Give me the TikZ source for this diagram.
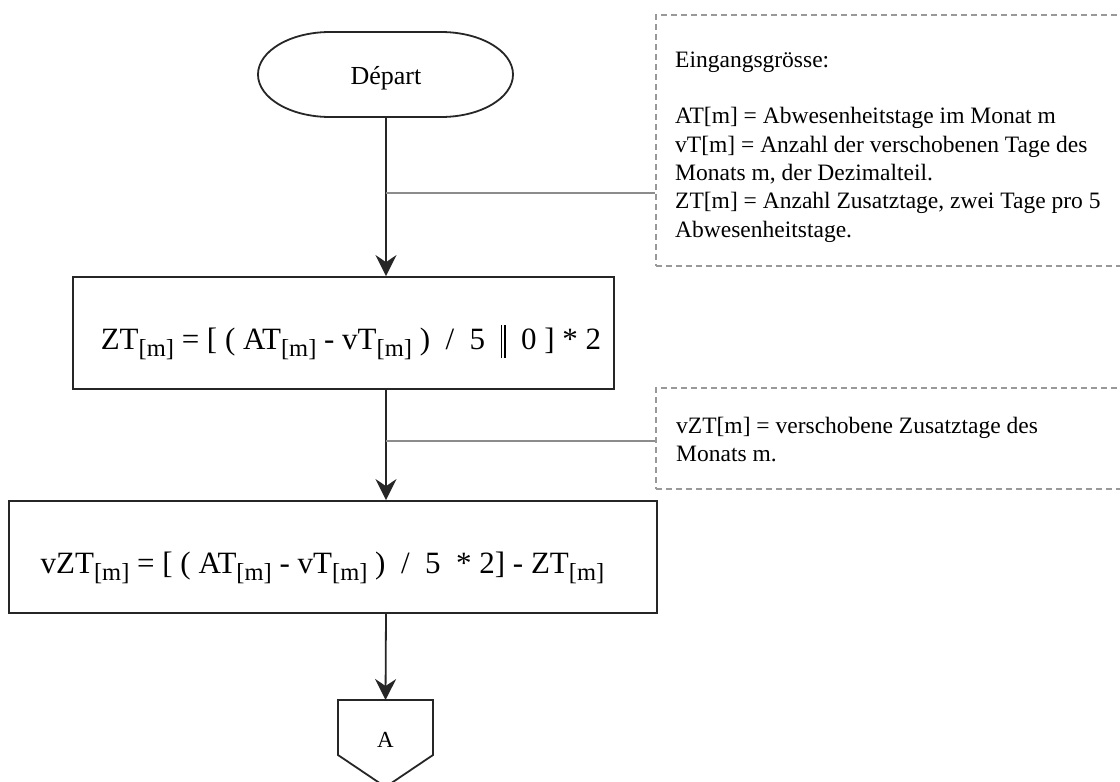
\documentclass[tikz,border=0pt]{standalone}
\usepackage{fontspec}
\setmainfont{Liberation Serif}
\usetikzlibrary{arrows.meta}
\tikzset{
  flow/.style={draw=black!85, line width=1.8pt},
  arr/.style={flow, -{Stealth[length=21pt,width=21pt,inset=7pt]}},
  branch/.style={draw=black!45, line width=1.5pt},
  notebox/.style={draw=black!40, dash pattern=on 6pt off 4pt, line width=1.5pt, inner sep=0pt},
  formula/.style={flow, rectangle, inner sep=0pt, font=\fontsize{31}{38}\selectfont, text height=32pt, text depth=0pt},
  notetxt/.style={inner sep=0pt, anchor=north west, align=left, font=\fontsize{23.5}{28.3}\selectfont},
}
\newcommand\sbm{\raisebox{-7.5pt}{\fontsize{24.5}{24.5}\selectfont[m]}}
\newcommand\dbar{\rule[-9pt]{1.2pt}{33pt}\hspace{2.5pt}\rule[-9pt]{1.2pt}{33pt}}
\begin{document}
\begin{tikzpicture}[x=1pt,y=-1pt]
\useasboundingbox (0,0) rectangle (1120,782);
\fill[white] (0,0) rectangle (1120,782);
% start terminal
\node[minimum width=255pt, minimum height=85pt, inner sep=0pt, text height=19pt, text depth=0pt, font=\fontsize{26}{30}\selectfont] (dep) at (386,74.5) {Départ};
\draw[flow] (330,32) -- (441,32) arc[start angle=90,end angle=-90,x radius=72pt,y radius=42.5pt] -- (330,117) arc[start angle=270,end angle=90,x radius=72pt,y radius=42.5pt] -- cycle;
% process boxes
\node[formula, minimum width=541pt, minimum height=112pt] (zt) at (343.5,333)
  {\hspace*{15pt}ZT\sbm{} = [ ( AT\sbm{} - vT\sbm{} )\ \ /\ \ 5\ \ \dbar\ \ 0 ] * 2};
\node[formula, minimum width=648pt, minimum height=112pt] (vzt) at (333,557)
  {vZT\sbm{} = [ ( AT\sbm{} - vT\sbm{} )\ \ /\ \ 5\ \ * 2] - ZT\sbm{}\hspace*{21pt}};
% off-page connector
\node[inner sep=0pt, font=\fontsize{23}{23}\selectfont] (conA) at (385.5,740) {A};
\coordinate (conAtop) at (385.5,700);
\draw[flow] (338,700) -- (433,700) -- (433,755) -- (385.5,787) -- (338,755) -- cycle;
% notes
\node[notebox, anchor=north west, minimum width=480pt, minimum height=251pt] (note1) at (655,14) {};
\node[notetxt] (note1t) at (675,51.5) {Eingangsgrösse:\\[28.3pt]AT[m] = Abwesenheitstage im Monat m\\vT[m] = Anzahl der verschobenen Tage des\\Monats m, der Dezimalteil.\\ZT[m] = Anzahl Zusatztage, zwei Tage pro 5\\Abwesenheitstage.};
\node[notebox, anchor=north west, minimum width=480pt, minimum height=101pt] (note2) at (655,387) {};
\node[notetxt] (note2t) at (676,417) {vZT[m] = verschobene Zusatztage des\\Monats m.};
% connectors
\draw[arr] (dep.south) -- (dep.south |- zt.north);
\draw[arr] (dep.south |- zt.south) -- (dep.south |- vzt.north);
\draw[arr] (dep.south |- vzt.south) -- (conAtop);
\coordinate (b1) at (386,193);
\coordinate (b2) at (386,441);
\draw[branch] (b1) -- (b1 -| note1.west);
\draw[branch] (b2) -- (b2 -| note2.west);
\end{tikzpicture}
\end{document}
